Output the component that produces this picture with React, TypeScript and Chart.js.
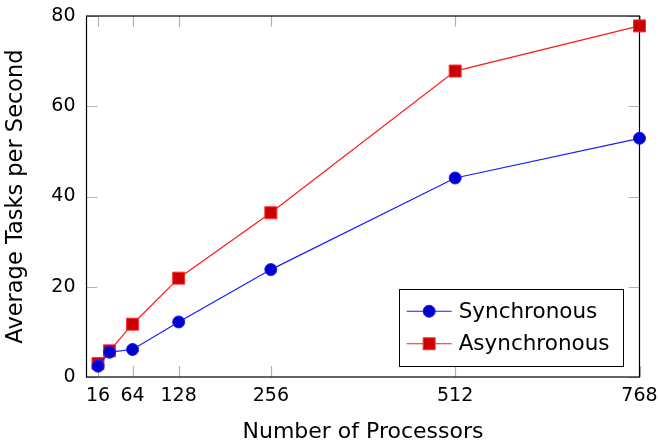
import { useEffect, useRef } from "react";
import { Chart, registerables } from "chart.js";

Chart.register(...registerables);

const processors = [16, 32, 64, 128, 256, 512, 768];
const synchronous = [2.4, 5.5, 6.1, 12.2, 23.8, 44.1, 52.9];
const asynchronous = [3.0, 5.8, 11.7, 21.9, 36.4, 67.8, 77.8];
const xTicks = [16, 64, 128, 256, 512, 768];
const yTicks = [0, 20, 40, 60, 80];
const seriesNames = ["Synchronous", "Asynchronous"];

const FONT = "'DejaVu Sans', sans-serif";

const framePlugin = {
  id: "frame",
  beforeDatasetsDraw(chart: any) {
    const { ctx, chartArea: a, scales } = chart;
    const len = 11;
    ctx.save();
    ctx.strokeStyle = "#b3b3b3";
    ctx.lineWidth = 1.2;
    ctx.beginPath();
    for (const v of xTicks) {
      const px = Math.round(scales.x.getPixelForValue(v)) + 0.5;
      ctx.moveTo(px, a.bottom);
      ctx.lineTo(px, a.bottom - len);
      ctx.moveTo(px, a.top);
      ctx.lineTo(px, a.top + len);
    }
    for (const v of yTicks) {
      const py = Math.round(scales.y.getPixelForValue(v)) + 0.5;
      ctx.moveTo(a.left, py);
      ctx.lineTo(a.left + len, py);
      ctx.moveTo(a.right, py);
      ctx.lineTo(a.right - len, py);
    }
    ctx.stroke();
    ctx.strokeStyle = "#000";
    ctx.lineWidth = 1.2;
    ctx.strokeRect(a.left, a.top, a.right - a.left, a.bottom - a.top);
    ctx.restore();
  },
  afterDraw(chart: any) {
    const { ctx, chartArea: a } = chart;
    const ds = chart.data.datasets;
    ctx.save();
    ctx.font = `21.5px ${FONT}`;
    const padL = 8,
      sample = 45,
      gap = 7,
      padR = 13,
      rowH = 32.5,
      padV = 6;
    let tw = 0;
    for (const d of ds) tw = Math.max(tw, ctx.measureText(d.label).width);
    const w = padL + sample + gap + tw + padR;
    const h = padV * 2 + rowH * ds.length;
    const right = a.right - 17;
    const bottom = a.bottom - 11;
    const left = right - w;
    const top = bottom - h;
    ctx.fillStyle = "#fff";
    ctx.fillRect(left, top, w, h);
    ctx.strokeStyle = "#000";
    ctx.lineWidth = 1;
    ctx.strokeRect(Math.round(left) + 0.5, Math.round(top) + 0.5, Math.round(w), Math.round(h));
    ds.forEach((d: any, i: number) => {
      const cy = top + padV + rowH * (i + 0.5);
      const x0 = left + padL;
      ctx.strokeStyle = d.borderColor;
      ctx.lineWidth = d.borderWidth;
      ctx.beginPath();
      ctx.moveTo(x0, cy);
      ctx.lineTo(x0 + sample, cy);
      ctx.stroke();
      const cx = x0 + sample / 2;
      ctx.fillStyle = d.pointBackgroundColor;
      ctx.strokeStyle = d.pointBorderColor;
      ctx.lineWidth = d.pointBorderWidth;
      ctx.beginPath();
      if (d.pointStyle === "rect") {
        const s = Math.SQRT1_2 * d.pointRadius;
        ctx.rect(cx - s, cy - s, 2 * s, 2 * s);
      } else {
        ctx.arc(cx, cy, d.pointRadius, 0, Math.PI * 2);
      }
      ctx.fill();
      ctx.stroke();
      ctx.fillStyle = "#000";
      ctx.textBaseline = "middle";
      ctx.textAlign = "left";
      ctx.fillText(d.label, x0 + sample + gap, cy + 1);
    });
    ctx.restore();
  },
};

export default function App() {
  const ref = useRef<HTMLCanvasElement | null>(null);
  useEffect(() => {
    document.body.style.margin = "0";
    const chart = new Chart(ref.current as HTMLCanvasElement, {
      type: "line",
      data: {
        datasets: [
          {
            label: seriesNames[0],
            data: processors.map((x, i) => ({ x, y: synchronous[i] })),
            borderColor: "#1a1aff",
            backgroundColor: "#0000cc",
            borderWidth: 1.2,
            pointStyle: "circle",
            pointRadius: 6,
            pointBackgroundColor: "#0000cc",
            pointBorderColor: "#1a1aff",
            pointBorderWidth: 1,
            clip: false,
          },
          {
            label: seriesNames[1],
            data: processors.map((x, i) => ({ x, y: asynchronous[i] })),
            borderColor: "#ff1a1a",
            backgroundColor: "#cc0000",
            borderWidth: 1.2,
            pointStyle: "rect",
            pointRadius: 8.5,
            pointBackgroundColor: "#cc0000",
            pointBorderColor: "#ff3333",
            pointBorderWidth: 1,
            clip: false,
          },
        ] as any,
      },
      options: {
        animation: false,
        responsive: false,
        maintainAspectRatio: false,
        layout: { padding: { top: 16, right: 19.5, left: 0, bottom: 0 } },
        plugins: { legend: { display: false }, tooltip: { enabled: false } },
        scales: {
          x: {
            type: "linear",
            min: 0,
            max: 768,
            grid: { display: false, drawTicks: false },
            border: { display: false },
            afterBuildTicks: (s: any) => {
              s.ticks = xTicks.map((v) => ({ value: v }));
            },
            afterFit: (s: any) => {
              s.height = 66;
              s.paddingLeft = 0;
              s.paddingRight = 0;
            },
            ticks: {
              font: { family: FONT, size: 19 },
              color: "#000",
              padding: 8,
              maxRotation: 0,
              autoSkip: false,
            },
            title: {
              display: true,
              text: "Number of Processors",
              font: { family: FONT, size: 22, lineHeight: 1 },
              color: "#000",
              padding: { top: 0, bottom: 0 },
            },
          },
          y: {
            type: "linear",
            min: 0,
            max: 80,
            grid: { display: false, drawTicks: false },
            border: { display: false },
            afterBuildTicks: (s: any) => {
              s.ticks = yTicks.map((v) => ({ value: v }));
            },
            afterFit: (s: any) => {
              s.width = 86.5;
              s.paddingTop = 0;
              s.paddingBottom = 0;
            },
            ticks: {
              font: { family: FONT, size: 19 },
              color: "#000",
              padding: 11,
            },
            title: {
              display: true,
              text: "Average Tasks per Second",
              font: { family: FONT, size: 22.5, lineHeight: 1 },
              color: "#000",
              padding: { top: 5, bottom: 0 },
            },
          },
        },
      } as any,
      plugins: [framePlugin],
    });
    return () => chart.destroy();
  }, []);
  return (
    <div style={{ position: "absolute", left: 0, top: 0, width: 659, height: 443 }}>
      <canvas ref={ref} width={659} height={443} style={{ width: 659, height: 443, display: "block" }} />
    </div>
  );
}
